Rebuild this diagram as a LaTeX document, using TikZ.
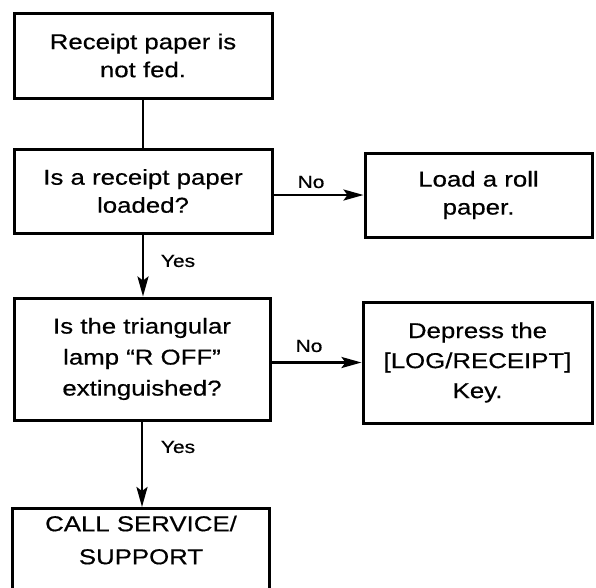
\documentclass[tikz,border=0pt]{standalone}
\usepackage{fontspec}
\setmainfont{Liberation Sans}[FakeStretch=1.2,FakeBold=0.5]
\usetikzlibrary{arrows.meta}
\tikzset{
  box/.style={draw, line width=3pt, rectangle, align=center, inner sep=0pt,
    font=\fontsize{21.5}{28}\selectfont},
  txt/.style={align=center, inner sep=0pt, font=\fontsize{21.5}{33}\selectfont},
  lbl/.style={inner sep=0pt, font=\fontsize{17.5}{20}\selectfont},
  conn/.style={line width=2.6pt},
  arr/.style={conn, -{Stealth[length=20pt,width=11pt,inset=4pt]}},
}
\begin{document}
\begin{tikzpicture}[x=1pt,y=-1pt]
\useasboundingbox (0,0) rectangle (596,587);
\clip (0,0) rectangle (596,587);
\node[box, minimum width=258, minimum height=85] (b1) at (143,55.5) {Receipt paper is\\not fed.};
\node[box, minimum width=258, minimum height=84] (b2) at (143,191) {Is a receipt paper\\loaded?};
\node[box, minimum width=227, minimum height=84] (b4) at (478.5,195) {Load a roll\\paper.};
\node[box, minimum width=256, minimum height=122, font=\fontsize{21.5}{31}\selectfont] (b3) at (142,359) {Is the triangular\\lamp “R OFF”\\extinguished?};
\node[box, minimum width=229, minimum height=121, font=\fontsize{21.5}{30}\selectfont] (b6) at (477.5,362.5) {Depress the\\{[LOG/RECEIPT]}\\Key.};
\node[box, minimum width=257, minimum height=120, anchor=north] (b5) at (141,507) {};
\node[txt] (b5t) at (141,540) {CALL SERVICE/\\SUPPORT};
\draw[conn] (b1.south) -- (b1.south |- b2.north);
\draw[arr] (b2.south) -- (b2.south |- b3.north);
\draw[arr] (b3.south) -- (b3.south |- b5.north);
\draw[arr] (b2.east |- b4.west) -- (b4.west);
\draw[arr] (b3.east |- b6.west) -- (b6.west);
\node[lbl] (y1) at (178,261) {Yes};
\node[lbl] (y2) at (178,447) {Yes};
\node[lbl] (n1) at (311,182) {No};
\node[lbl] (n2) at (309,346) {No};
\end{tikzpicture}
\end{document}
